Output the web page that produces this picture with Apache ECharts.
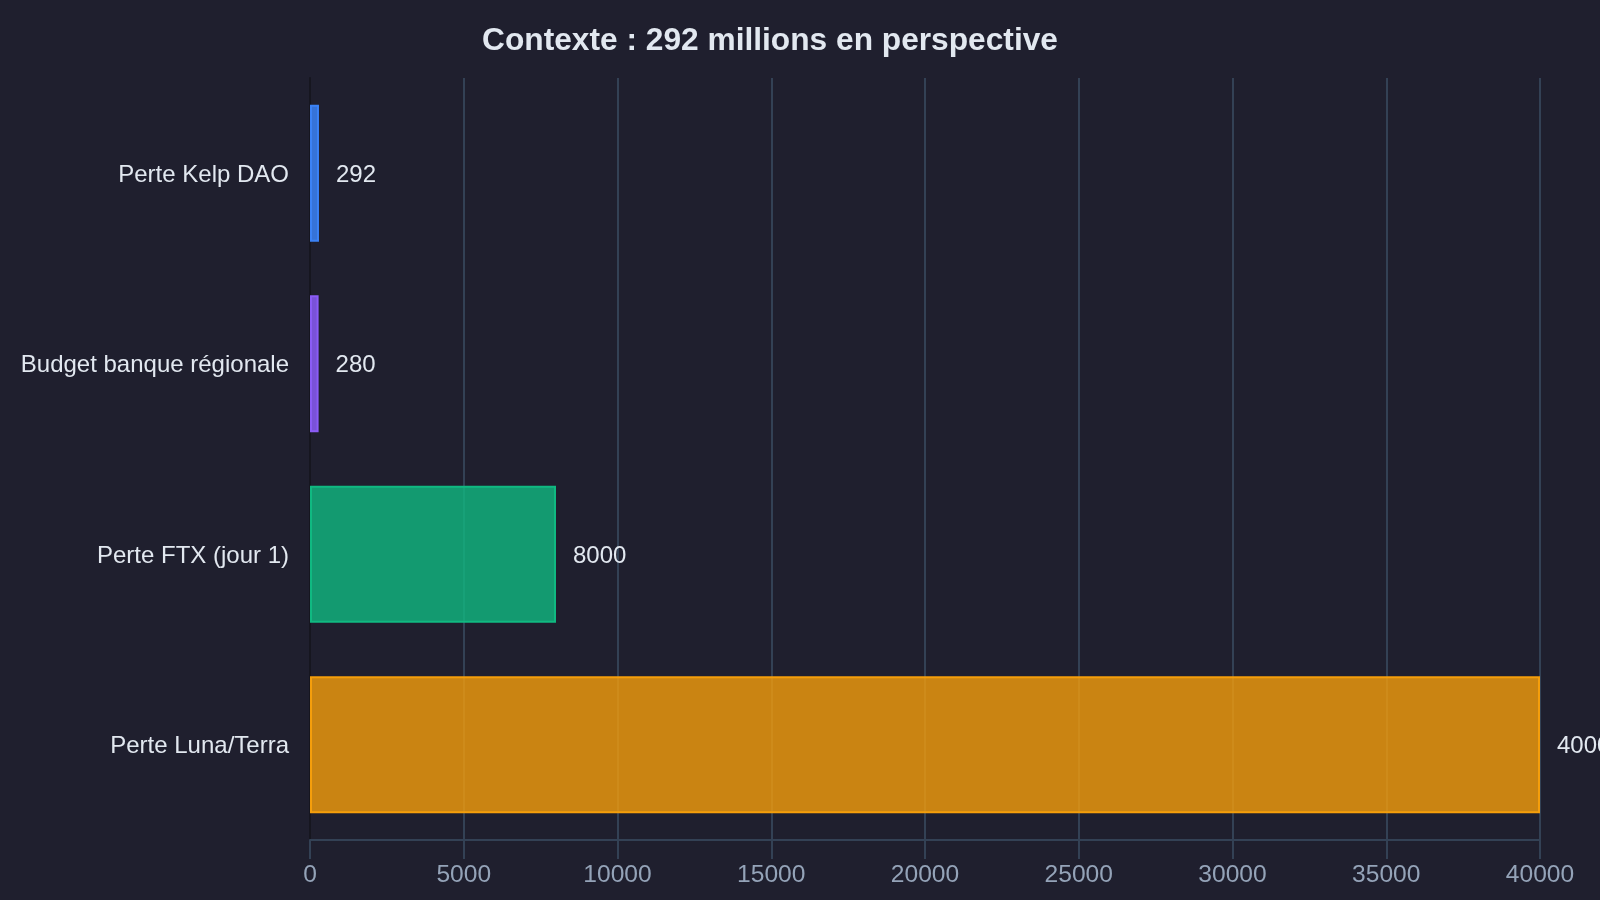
<!DOCTYPE html>
<html>
<head>
<meta charset="utf-8">
<script src="https://cdn.jsdelivr.net/npm/echarts@6/dist/echarts.min.js"></script>
<style>
html,body{margin:0;padding:0;background:#1f1f2e;}
#c{width:1600px;height:900px;}
</style>
</head>
<body>
<div id="c"></div>
<script>
const titleText = 'Contexte : 292 millions en perspective';
const categories = ['Perte Kelp DAO', 'Budget banque régionale', 'Perte FTX (jour 1)', 'Perte Luna/Terra'];
const values = [292, 280, 8000, 40000];
const fillColors = ['rgba(59,130,246,0.85)', 'rgba(139,92,246,0.85)', 'rgba(16,185,129,0.8)', 'rgba(245,158,11,0.8)'];
const borderColors = ['#3b82f6', '#8b5cf6', '#10b981', '#f59e0b'];
const xMin = 0, xMax = 40000, xStep = 5000;

const chart = echarts.init(document.getElementById('c'), null, {renderer: 'canvas'});
const font = 'Liberation Sans, Arial, sans-serif';
chart.setOption({
  backgroundColor: '#1f1f2e',
  animation: false,
  title: {
    text: titleText,
    left: 765,
    top: 36,
    textAlign: 'center',
    textVerticalAlign: 'middle',
    textStyle: {color: '#e2e8f0', fontSize: 31.7, fontWeight: 'bold', fontFamily: font}
  },
  grid: {left: 310, right: 60, top: 78, bottom: 60, containLabel: false},
  xAxis: {
    type: 'value',
    min: xMin, max: xMax, interval: xStep,
    axisLine: {show: true, lineStyle: {color: '#334155', width: 2}},
    axisTick: {show: true, length: 19, lineStyle: {color: '#334155', width: 2}},
    splitLine: {show: true, lineStyle: {color: '#334155', width: 2}},
    axisLabel: {color: '#94a3b8', fontSize: 24.6, fontFamily: font, margin: 23,
      formatter: v => String(v)}
  },
  yAxis: {
    type: 'category',
    inverse: true,
    data: categories,
    axisLine: {show: true, lineStyle: {color: '#16161f', width: 2}},
    axisTick: {show: false},
    splitLine: {show: false},
    axisLabel: {color: '#e2e8f0', fontSize: 24, fontFamily: font, margin: 21,
      verticalAlign: 'top', lineHeight: 4}
  },
  series: [{
    type: 'bar',
    barWidth: '72%',
    data: values.map((v, i) => ({
      value: v,
      itemStyle: {color: fillColors[i], borderColor: borderColors[i], borderWidth: 2}
    })),
    label: {
      show: true,
      position: 'right',
      distance: 17,
      offset: [0, 2],
      color: '#e2e8f0',
      fontSize: 24,
      fontFamily: font
    }
  }]
});
</script>
</body>
</html>
